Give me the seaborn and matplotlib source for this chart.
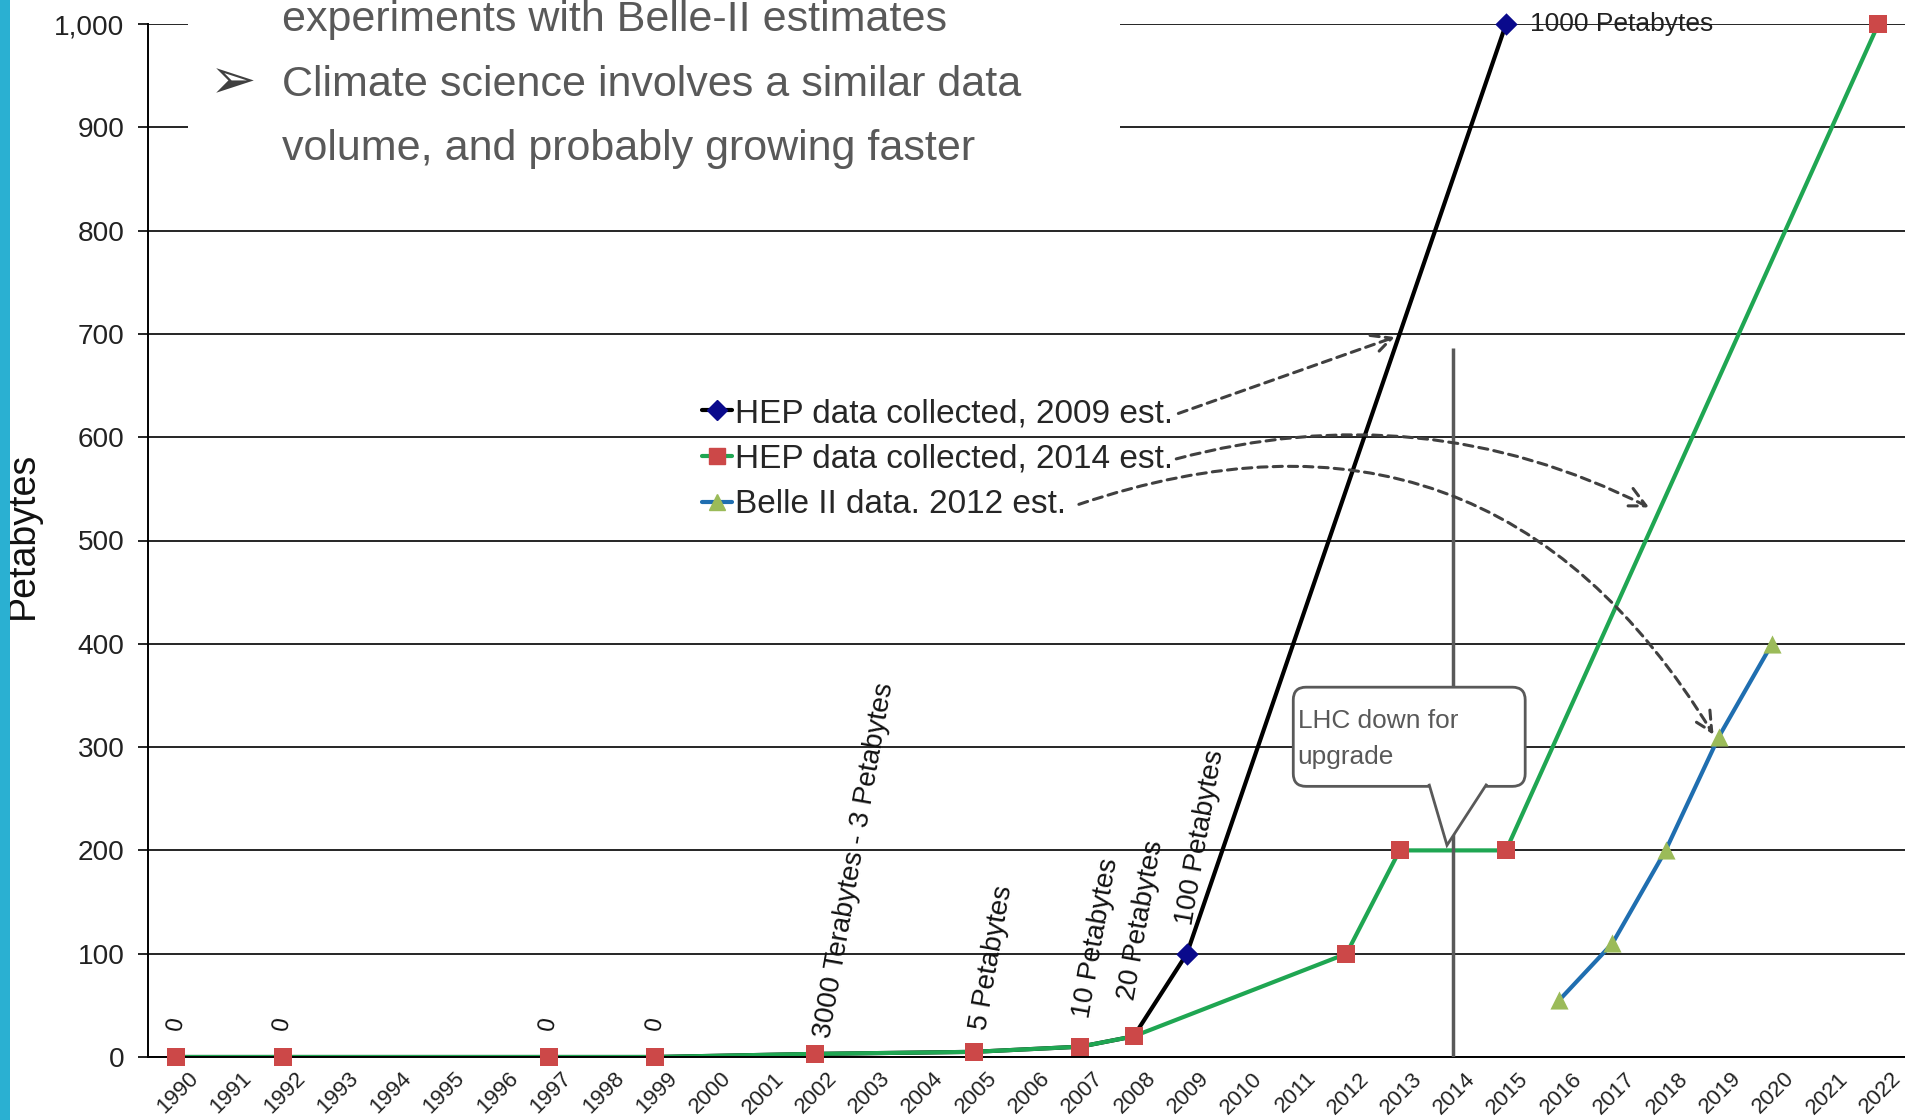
"""HEP data volume growth chart (Petabytes per year) with slide overlay."""

import matplotlib

matplotlib.use("Agg")
import matplotlib.pyplot as plt
import seaborn as sns
from matplotlib import font_manager
from matplotlib.lines import Line2D
from matplotlib.patches import FancyBboxPatch, Polygon, Rectangle
from matplotlib.transforms import ScaledTranslation

# --- data -------------------------------------------------------------
years = list(range(1990, 2023))

hep09_years = [1990, 1992, 1997, 1999, 2002, 2005, 2007, 2008, 2009, 2015]
hep09_pb = [0, 0, 0, 0, 3, 5, 10, 20, 100, 1000]

hep14_years = [1990, 1992, 1997, 1999, 2002, 2005, 2007, 2008, 2012, 2013, 2015, 2022]
hep14_pb = [0, 0, 0, 0, 3, 5, 10, 20, 100, 200, 200, 1000]

belle_years = [2016, 2017, 2018, 2019, 2020]
belle_pb = [55, 110, 200, 310, 400]

ytick_values = list(range(0, 1001, 100))

legend_labels = [
    "HEP data collected, 2009 est.",
    "HEP data collected, 2014 est.",
    "Belle II data. 2012 est.",
]

zero_years = [1990, 1992, 1997, 1999]
point_notes = [
    (2002.16, 19, "3000 Terabytes - 3 Petabytes"),
    (2005.1, 26, "5 Petabytes"),
    (2007.03, 38, "10 Petabytes"),
    (2007.88, 55, "20 Petabytes"),
    (2008.97, 128, "100 Petabytes"),
]

slide_lines = [
    "experiments with Belle-II estimates",
    "Climate science involves a similar data",
    "volume, and probably growing faster",
]

upgrade_year = 2014
callout_text = "LHC down for\nupgrade"

# --- style ------------------------------------------------------------
sns.set_theme(style="white")
installed = {f.name for f in font_manager.fontManager.ttflist}
HAS_NARROW = "Liberation Sans Narrow" in installed
NARROW = "Liberation Sans Narrow" if HAS_NARROW else "Liberation Sans"
shrink = 1.0 if HAS_NARROW else 0.86
plt.rcParams["font.family"] = ["Liberation Sans", "DejaVu Sans"]

BLACK = "#000000"
NAVY = "#0A0A8C"
RED = "#CC4848"
GREEN = "#1FA652"
BLUE = "#1F6EB0"
OLIVE = "#9BBB59"
GREY = "#595959"
ARROW = "#404040"

fig = plt.figure(figsize=(19.05, 11.2), dpi=100)
ax = fig.add_axes([148 / 1905, 63 / 1120, 1757 / 1905, 1033 / 1120])

# lines
sns.lineplot(x=hep09_years, y=hep09_pb, ax=ax, color=BLACK, lw=3, zorder=2)
sns.lineplot(x=hep14_years, y=hep14_pb, ax=ax, color=GREEN, lw=3, zorder=2)
sns.lineplot(x=belle_years, y=belle_pb, ax=ax, color=BLUE, lw=3, zorder=2)

# markers
sns.scatterplot(x=hep09_years[-2:], y=hep09_pb[-2:], ax=ax, marker="D", s=130,
                color=NAVY, edgecolor=NAVY, linewidth=0, zorder=4, clip_on=False)
sns.scatterplot(x=hep14_years, y=hep14_pb, ax=ax, marker="s", s=160,
                color=RED, edgecolor=RED, linewidth=0, zorder=4, clip_on=False)
sns.scatterplot(x=belle_years, y=belle_pb, ax=ax, marker="^", s=170,
                color=OLIVE, edgecolor=OLIVE, linewidth=0, zorder=4, clip_on=False)

# axes
ax.set_xlim(1989.47, 2022.5)
ax.set_ylim(0, 1000)
ax.set_yticks(ytick_values)
ax.set_yticklabels([f"{v:,}" for v in ytick_values], family=[NARROW, "DejaVu Sans"],
                   fontsize=23.5 * shrink, color="#222222")
ax.set_xticks(years)
ax.set_xticklabels([str(y) for y in years], rotation=45, ha="right",
                   rotation_mode="anchor", fontsize=16, color="#222222")
ax.set_xticks([y + 0.5 for y in years], minor=True)
ax.tick_params(axis="x", which="major", length=0, pad=8)
ax.tick_params(axis="x", which="minor", length=7, width=1.2, color=BLACK, direction="out")
ax.tick_params(axis="y", which="major", length=7, width=1.2, color=BLACK,
               direction="out", left=True, pad=10)
for lab in ax.get_xticklabels():
    lab.set_transform(lab.get_transform() + ScaledTranslation(0.12, 0, fig.dpi_scale_trans))

ax.yaxis.grid(True, color=BLACK, lw=1.2)
ax.xaxis.grid(False)
ax.set_axisbelow(True)
for side in ["top", "right"]:
    ax.spines[side].set_visible(False)
for side in ["left", "bottom"]:
    ax.spines[side].set_color(BLACK)
    ax.spines[side].set_linewidth(1.4)
ax.set_ylabel("Petabytes", fontsize=27, color="#111111")
ax.yaxis.set_label_coords(-0.061, 0.505)

# point labels
for yr in zero_years:
    ax.text(yr, 31, "0", rotation=80, ha="center", va="center", fontsize=17,
            color="#111111")
for x, y, s in point_notes:
    ax.text(x, y, s, rotation=80, rotation_mode="anchor", ha="left", va="center",
            fontsize=20, color="#111111")
ax.text(hep09_years[-1] + 0.45, hep09_pb[-1], "1000 Petabytes", ha="left", va="center",
        fontsize=19, color="#222222")

# LHC upgrade marker + callout
ax.vlines(upgrade_year, 0, 686, color=GREY, lw=2.5, zorder=3)
box = FancyBboxPatch((2011.0, 262), 4.36, 96, boxstyle="round,pad=0,rounding_size=0.24",
                     mutation_aspect=51.5, fc="white", ec=GREY, lw=2, zorder=5)
ax.add_patch(box)
ax.add_patch(Polygon([(2013.55, 264.5), (2013.89, 205), (2014.64, 264.5)], closed=False,
                     fc="white", ec=GREY, lw=2, zorder=6))
ax.text(2011.08, 337, callout_text, ha="left", va="top", fontsize=22 * shrink, color=GREY,
        family=[NARROW, "DejaVu Sans"], linespacing=1.65, zorder=7)

# legend
handles = [
    Line2D([], [], color=BLACK, lw=3, marker="D", ms=10, mfc=NAVY, mec=NAVY),
    Line2D([], [], color=GREEN, lw=3, marker="s", ms=11, mfc=RED, mec=RED),
    Line2D([], [], color=BLUE, lw=3, marker="^", ms=12, mfc=OLIVE, mec=OLIVE),
]
fig.legend(handles, legend_labels, loc="upper left", bbox_to_anchor=(702 / 1905, 1 - 398 / 1120),
           frameon=False, fontsize=24, handlelength=0.9, handletextpad=0.1,
           labelspacing=0.44, borderpad=0, borderaxespad=0, numpoints=1)

# dashed arrows from legend entries to the curves
arrows = [
    ((2008.84, 623), (2012.91, 697), 0.0),
    ((2008.80, 579), (2017.69, 532), -0.19),
    ((2006.97, 535), (2018.90, 312), -0.4),
]
for start, end, rad in arrows:
    ax.annotate("", xy=end, xytext=start,
                arrowprops=dict(arrowstyle="->,head_length=0.7,head_width=0.35",
                                linestyle=(0, (3, 2)), lw=2.2, color=ARROW,
                                connectionstyle=f"arc3,rad={rad}", shrinkA=0, shrinkB=0,
                                mutation_scale=20))

# slide overlay: white panel with bullet text, blue bar on the left
fig.add_artist(Rectangle((188 / 1905, 1 - 195 / 1120), (1120 - 188) / 1905, 195 / 1120,
                         transform=fig.transFigure, fc="white", ec="none", zorder=1))
fig.add_artist(Rectangle((0, 0), 10 / 1905, 1, transform=fig.transFigure,
                         fc="#2AB0D2", ec="none", zorder=3))
for i, line in enumerate(slide_lines):
    fig.text(282 / 1905, 1 - (20 + 64.5 * i) / 1120, line, ha="left", va="center",
             fontsize=36 * shrink, color=GREY, family=[NARROW, "DejaVu Sans"], zorder=2)
fig.text(210 / 1905, 1 - 83 / 1120, "\u27a2", ha="left", va="center", fontsize=40,
         color=ARROW, family=["DejaVu Sans"], zorder=2)

fig.savefig("out.png", dpi=100)
